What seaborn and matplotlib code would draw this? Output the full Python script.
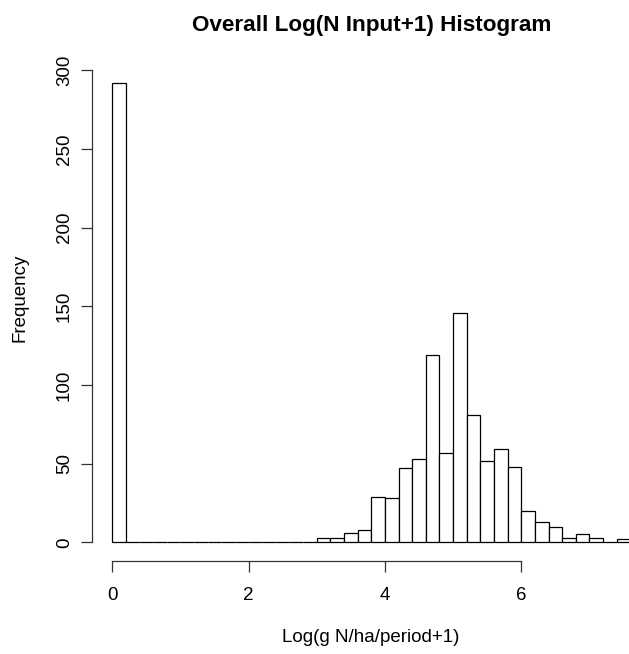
import numpy as np
import pandas as pd
import matplotlib.pyplot as plt
import seaborn as sns

# histogram of log(N input + 1), bins of width 0.2 starting at 0
bin_width = 0.2
bin_starts = np.round(np.arange(0, 7.5, bin_width), 1)
counts = [292, 0, 0, 0, 0, 0, 0, 0, 0, 0,
          0, 0, 0, 0, 0, 3, 3, 6, 8, 29,
          28, 47, 53, 119, 57, 146, 81, 52, 59, 48,
          20, 13, 10, 3, 5, 3, 0, 2]

x_ticks = [0, 2, 4, 6]
y_ticks = [0, 50, 100, 150, 200, 250, 300]

df = pd.DataFrame({'mid': bin_starts + bin_width / 2, 'n': counts})

sns.set_style("ticks")
plt.rcParams['font.family'] = ['Liberation Sans', 'DejaVu Sans']
plt.rcParams['text.color'] = 'black'
plt.rcParams['axes.labelcolor'] = 'black'
plt.rcParams['xtick.color'] = 'black'
plt.rcParams['ytick.color'] = 'black'

fig = plt.figure(figsize=(6.29, 6.54), dpi=100)
ax = fig.add_axes([92 / 629, (654 - 560.7) / 654, (629 - 92) / 629, (560.7 - 64.6) / 654])

sns.histplot(data=df, x='mid', weights='n', binwidth=bin_width,
             binrange=(0, bin_starts[-1] + bin_width),
             color="white", edgecolor="black", linewidth=0.9, alpha=1, ax=ax)

ax.set_xlim(-0.296, 7.58)
ax.set_ylim(-11.7, 303.7)
ax.set_xticks(x_ticks)
ax.set_yticks(y_ticks)
sns.despine(ax=ax)
ax.spines['left'].set_bounds(0, 300)
ax.spines['bottom'].set_bounds(0, 6)
for s in ['left', 'bottom']:
    ax.spines[s].set_linewidth(0.9)
    ax.spines[s].set_color('#333333')

ax.tick_params(axis='both', direction='out', length=7.7, width=0.9,
               color='#333333', labelcolor='black', labelsize=13.5)
ax.tick_params(axis='x', pad=11.5)
ax.tick_params(axis='y', pad=6, labelrotation=90)
for lab in ax.get_yticklabels():
    lab.set_va('center')

ax.set_xlabel("Log(g N/ha/period+1)", fontsize=13.5, color='black')
ax.set_ylabel("Frequency", fontsize=13.5, color='black')
ax.xaxis.set_label_coords(0.5196, -0.1558)
ax.xaxis.label.set_va('center')
ax.yaxis.set_label_coords(-0.134, 0.5295)
ax.yaxis.label.set_va('center')

fig.text(372 / 629, 1 - 26 / 654, "Overall Log(N Input+1) Histogram",
         ha='center', va='center', fontsize=16.2, fontweight='bold', color='black')

fig.savefig("out.png", dpi=100)
